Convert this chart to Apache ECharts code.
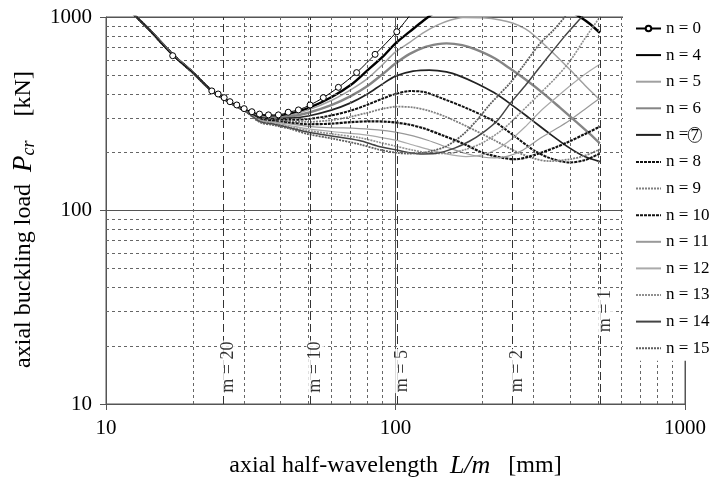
<!DOCTYPE html>
<html><head><meta charset="utf-8">
<script src="https://cdn.jsdelivr.net/npm/echarts@6/dist/echarts.min.js"></script>
<style>html,body{margin:0;padding:0;background:#fff}#c{width:710px;height:487px}</style>
</head><body><div id="c"></div>
<script>
// ---- data ----
const leftBranch = [[12,1090],[14,870],[17,640],[20,515],[23,420],[26,372],[30,330]];
const n0 = [[12,1090],[14,870],[17,631],[20,515],[23.2,415],[24.4,400],[25.6,383],[26.8,365],[28.3,351],[30,336],[31.9,324],[33.9,315],[36.4,312],[39.4,312],[42.6,322],[46.2,331],[50.7,351],[56.3,383],[63.5,433],[73.4,516],[85,641],[101,839],[115,1070]];
const n0Marked = [0,0,1,0,1,1,1,1,1,1,1,1,1,1,1,1,1,1,1,1,1,1,0];
const n4 = [[34,310],[38,306],[43,315],[50,338],[60,385],[70,445],[80,530],[90,620],[100,730],[112,840],[125,960],[140,1080],[170,1280],[210,1380],[260,1360],[320,1250],[380,1120],[434,1000],[470,920],[508,827]];
const n5 = [[34,308],[38,303],[43,310],[50,331],[60,370],[70,420],[80,480],[90,565],[100,660],[112,740],[125,830],[140,910],[155,965],[171,995],[200,990],[230,965],[255,928],[280,870],[300,807],[342,675],[400,535],[450,445],[495,387],[508,374]];
const n6 = [[34,305],[38,300],[43,305],[50,320],[60,350],[70,390],[80,440],[90,505],[100,575],[112,645],[125,695],[140,724],[150,731],[170,716],[190,678],[220,612],[248,543],[285,468],[324,403],[370,340],[420,288],[470,248],[508,222]];
const n7 = [[34,302],[38,298],[43,300],[50,308],[60,330],[70,360],[80,400],[90,450],[100,495],[115,525],[131,532],[150,520],[167,495],[190,455],[218,408],[248,358],[290,300],[340,250],[400,210],[450,190],[508,179]];
const n8 = [[34,300],[38,295],[43,294],[50,297],[60,310],[70,328],[80,352],[90,378],[100,400],[112,414],[125,410],[146,378],[180,333],[218,290],[260,240],[300,205],[340,187],[400,177],[450,182],[508,197]];
const n9 = [[34,298],[38,292],[43,288],[50,287],[60,293],[70,305],[80,320],[90,335],[101,344],[115,341],[130,328],[150,304],[180,268],[218,232],[260,202],[300,186],[340,180],[400,184],[450,192],[508,207]];
const n10 = [[34,296],[38,290],[43,284],[50,279],[60,281],[70,286],[82,289],[95,287],[110,279],[125,266],[145,245],[171,222],[195,202],[211,194],[235,187],[260,184],[290,190],[316,198],[360,213],[400,228],[450,248],[508,271]];
const n11 = [[34,294],[38,287],[43,280],[50,272],[58,268],[66,267],[75,265],[87,261],[100,254],[115,243],[130,230],[150,213],[175,197],[200,189],[220,187],[245,191],[275,205],[316,236],[360,265],[400,293],[450,333],[508,380]];
const n12 = [[34,292],[38,284],[43,275],[50,264],[60,256],[75,248],[87,240],[100,231],[115,218],[130,207],[150,196],[175,190],[200,194],[225,208],[250,232],[280,270],[316,325],[360,385],[400,440],[450,505],[508,570]];
const n13 = [[34,290],[38,281],[43,271],[50,259],[60,249],[75,238],[87,226],[100,215],[115,205],[131,198],[150,197],[175,207],[200,224],[235,263],[269,318],[316,403],[360,490],[400,590],[450,770],[508,1000],[520,1050]];
const n14 = [[34,288],[38,279],[43,268],[50,254],[60,243],[75,230],[87,215],[100,206],[112,199],[125,196],[140,198],[160,210],[180,228],[200,252],[225,292],[250,360],[280,440],[316,553],[380,780],[440,1000],[470,1120]];
const n15 = [[34,286],[38,276],[43,265],[50,248],[60,236],[75,220],[87,207],[100,199],[110,197],[122,198],[135,204],[150,215],[170,245],[190,290],[211,351],[250,460],[280,575],[316,731],[350,850],[385,1000],[420,1160]];

const xMinor = [20,30,40,50,60,70,80,90,200,300,400,500,600,700,800,900];
const yMinor = [20,30,40,50,60,70,80,90,200,300,400,500,600,700,800,900];
const mLinePos = [508, 254, 101.6, 50.8, 25.4];
const mLabels = ['m = 1','m = 2','m = 5','m = 10','m = 20'];
const mLabelY = [30.2, 14.8, 14.8, 15.5, 15.5];

// ---- styles ----
const FONT = 'Liberation Serif';
const curves = [
  ['n = 4', n4, '#000000', 2.4, 'solid'],
  ['n = 5', n5, '#a0a0a0', 1.5, 'solid'],
  ['n = 6', n6, '#858585', 2.4, 'solid'],
  ['n = 7', n7, '#222222', 1.7, 'solid'],
  ['n = 8', n8, '#111111', 2.0, [3,1]],
  ['n = 9', n9, '#808080', 1.8, [2,1]],
  ['n = 10', n10, '#111111', 2.2, [3,1]],
  ['n = 11', n11, '#999999', 1.2, 'solid'],
  ['n = 12', n12, '#aaaaaa', 1.2, 'solid'],
  ['n = 13', n13, '#909090', 1.6, [2,1]],
  ['n = 14', n14, '#444444', 1.5, 'solid'],
  ['n = 15', n15, '#5e5e5e', 1.8, [2,1]]
];

const series = [];
series.push({
  name: 'grid', type: 'line', data: [], silent: true, z: 1,
  markLine: {
    silent: true, symbol: ['none','none'], animation: false,
    label: {show: false},
    lineStyle: {color: '#666', type: [3,3], width: 1},
    data: xMinor.map(v => ({xAxis: v})).concat(yMinor.map(v => ({yAxis: v})))
  }
});
curves.forEach(c => {
  series.push({
    name: c[0], type: 'line', data: leftBranch.concat(c[1]), smooth: 0.3,
    symbol: 'none', showSymbol: false, z: 3, animation: false,
    lineStyle: {color: c[2], width: c[3], type: c[4]},
    itemStyle: {color: c[2]}
  });
});
series.push({
  name: 'n = 0', type: 'line', z: 5, animation: false, smooth: 0.3,
  data: n0.map((p, i) => n0Marked[i] ? {value: p} : {value: p, symbol: 'none'}),
  symbol: 'circle', symbolSize: 6, showAllSymbol: true,
  lineStyle: {color: '#000', width: 1},
  itemStyle: {color: '#fff', borderColor: '#000', borderWidth: 1}
});
series.push({
  name: 'mlines', type: 'scatter', z: 6, silent: true, animation: false,
  data: mLinePos.map((x, i) => [x, mLabelY[i]]),
  symbol: 'circle', symbolSize: 1, itemStyle: {color: 'rgba(0,0,0,0)'},
  label: {
    show: true, position: 'inside', rotate: 90, offset: [0, 5],
    formatter: p => mLabels[p.dataIndex],
    fontFamily: FONT, fontSize: 18, color: '#000',
    backgroundColor: '#fff', padding: [0, 1]
  },
  markLine: {
    silent: true, symbol: ['none','none'], animation: false,
    label: {show: false},
    lineStyle: {color: '#333', type: [8,4], width: 1},
    data: mLinePos.map(v => ({xAxis: v}))
  }
});

const legendNames = ['n = 0','n = 4','n = 5','n = 6','n = 7','n = 8','n = 9','n = 10','n = 11','n = 12','n = 13','n = 14','n = 15'];
const legendData = legendNames.map(n => n === 'n = 0' ? {name: n} : {name: n, itemStyle: {opacity: 0}});

const chart = echarts.init(document.getElementById('c'), null, {renderer: 'canvas'});
chart.setOption({
  animation: false,
  backgroundColor: '#fff',
  grid: {left: 106, right: 25, top: 17, bottom: 83, show: true, borderColor: '#555', borderWidth: 1, containLabel: false, outerBoundsMode: 'none'},
  legend: {
    data: legendData, orient: 'vertical', left: 623, top: 10,
    itemWidth: 25, itemHeight: 7, itemGap: 9.6,
    backgroundColor: '#fff', padding: [10, 8, 4, 12], z: 10,
    formatter: name => name === 'n = 7' ? 'n ={c|7}' : name,
    textStyle: {fontFamily: FONT, fontSize: 17, color: '#000',
      rich: {c: {fontFamily: FONT, fontSize: 17, width: 13, height: 14, lineHeight: 14, align: 'center', borderColor: '#000', borderWidth: 0.8, borderRadius: 8, padding: [1, 0, 0, 0]}}}
  },
  xAxis: {
    type: 'log', logBase: 10, min: 10, max: 1000,
    axisLine: {show: true, lineStyle: {color: '#555'}},
    axisTick: {show: true, length: 6, lineStyle: {color: '#555'}},
    splitLine: {show: true, lineStyle: {color: '#555', width: 1}},
    axisLabel: {fontFamily: FONT, fontSize: 21, color: '#000', margin: 14, formatter: v => String(Math.round(v))},
    name: 'axial half-wavelength  {i|L/m}   [mm]',
    nameLocation: 'middle', nameGap: 49,
    nameTextStyle: {fontFamily: FONT, fontSize: 24, color: '#000',
      rich: {i: {fontFamily: FONT, fontSize: 26, fontStyle: 'italic', color: '#000'}}}
  },
  yAxis: {
    type: 'log', logBase: 10, min: 10, max: 1000,
    axisLine: {show: true, lineStyle: {color: '#555'}},
    axisTick: {show: true, length: 6, lineStyle: {color: '#555'}},
    splitLine: {show: true, lineStyle: {color: '#555', width: 1}},
    axisLabel: {fontFamily: FONT, fontSize: 21, color: '#000', margin: 14, formatter: v => String(Math.round(v))},
    name: 'axial buckling load  {i|P}{s|cr}    [kN]   ',
    nameLocation: 'middle', nameGap: 68,
    nameTextStyle: {fontFamily: FONT, fontSize: 24, color: '#000',
      rich: {i: {fontFamily: FONT, fontSize: 27, fontStyle: 'italic', color: '#000'},
             s: {fontFamily: FONT, fontSize: 18, fontStyle: 'italic', color: '#000', padding: [11, 0, 0, 0]}}}
  },
  series: series
});
</script>
</body></html>
